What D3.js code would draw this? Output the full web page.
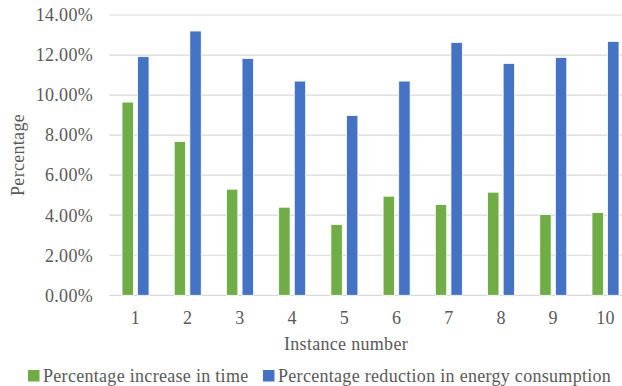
<!DOCTYPE html>
<html>
<head>
<meta charset="utf-8">
<script src="https://cdn.jsdelivr.net/npm/d3@7"></script>
<style>
  body { margin: 0; background: #fff; }
  svg { display: block; }
</style>
</head>
<body>
<div id="chart"></div>
<script>
// chart data
const instances = ["1", "2", "3", "4", "5", "6", "7", "8", "9", "10"];
const timeIncrease = [9.65, 7.68, 5.30, 4.40, 3.53, 4.95, 4.53, 5.15, 4.03, 4.13];
const energyReduction = [11.92, 13.20, 11.83, 10.70, 8.98, 10.70, 12.63, 11.58, 11.88, 12.68];
const seriesNames = ["Percentage increase in time", "Percentage reduction in energy consumption"];
const seriesColors = ["#70ad47", "#4472c4"];
const yTicks = [0, 2, 4, 6, 8, 10, 12, 14];

const width = 622, height = 386;
const plotLeft = 109.4, plotRight = 631.6, plotTop = 15, plotBottom = 295.3;

const svg = d3.select("#chart").append("svg")
    .attr("width", width)
    .attr("height", height);

// every label shares the same serif look
function label(sel) {
    return sel
        .attr("font-family", "Liberation Serif")
        .attr("font-size", 18)
        .attr("letter-spacing", 0.3)
        .attr("fill", "#595959");
}

const y = d3.scaleLinear().domain([0, 14]).range([plotBottom, plotTop]);

const x0 = d3.scaleBand()
    .domain(instances)
    .range([plotLeft, plotRight])
    .paddingInner(0.483)
    .paddingOuter(0.2415);

const x1 = d3.scaleBand()
    .domain([0, 1])
    .range([0, x0.bandwidth()])
    .paddingInner(0.27);

// gridlines
svg.append("g")
    .selectAll("line")
    .data(yTicks)
    .join("line")
    .attr("x1", plotLeft)
    .attr("x2", plotRight)
    .attr("y1", d => y(d))
    .attr("y2", d => y(d))
    .attr("stroke", "#d9d9d9")
    .attr("stroke-width", 1.2);

// y tick labels
svg.append("g")
    .selectAll("text")
    .data(yTicks)
    .join("text")
    .call(label)
    .attr("x", 93)
    .attr("y", d => y(d))
    .attr("dy", "0.35em")
    .attr("text-anchor", "end")
    .text(d => d.toFixed(2) + "%");

// bars
const rows = instances.map((k, i) => ({ key: k, vals: [timeIncrease[i], energyReduction[i]] }));

const groups = svg.append("g")
    .selectAll("g")
    .data(rows)
    .join("g")
    .attr("transform", d => `translate(${x0(d.key)},0)`);

groups.selectAll("rect")
    .data(d => d.vals.map((v, s) => ({ s, v })))
    .join("rect")
    .attr("x", d => x1(d.s))
    .attr("width", x1.bandwidth())
    .attr("y", d => y(d.v))
    .attr("height", d => y(0) - y(d.v))
    .attr("fill", d => seriesColors[d.s])
    .attr("stroke", "#ffffff")
    .attr("stroke-width", 0.8);

// x tick labels
svg.append("g")
    .selectAll("text")
    .data(instances)
    .join("text")
    .call(label)
    .attr("x", d => x0(d) + x0.bandwidth() / 2)
    .attr("y", 318)
    .attr("dy", "0.35em")
    .attr("text-anchor", "middle")
    .text(d => d);

// axis titles
svg.append("text")
    .call(label)
    .attr("x", 346)
    .attr("y", 344)
    .attr("dy", "0.35em")
    .attr("text-anchor", "middle")
    .text("Instance number");

svg.append("text")
    .call(label)
    .attr("transform", "translate(18,155) rotate(-90)")
    .attr("dy", "0.35em")
    .attr("text-anchor", "middle")
    .text("Percentage");

// legend
const legendX = [28, 263];
const legend = svg.append("g")
    .selectAll("g")
    .data(seriesNames)
    .join("g")
    .attr("transform", (d, i) => `translate(${legendX[i]},370)`);

legend.append("rect")
    .attr("width", 11.5)
    .attr("height", 11.5)
    .attr("fill", (d, i) => seriesColors[i]);

legend.append("text")
    .call(label)
    .attr("x", 15)
    .attr("y", 6)
    .attr("dy", "0.35em")
    .text(d => d);
</script>
</body>
</html>
